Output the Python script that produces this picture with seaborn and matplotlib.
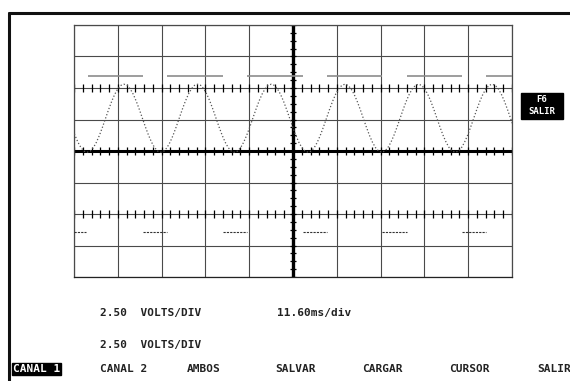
import numpy as np
import pandas as pd
import matplotlib
matplotlib.use("Agg")
import matplotlib.pyplot as plt
import seaborn as sns
from matplotlib.lines import Line2D
from matplotlib.patches import Rectangle

# canal 1: sine trace, read every 1/24 of a period (volts)
sine_t0 = -1.385   # ms, first sample
sine_dt = 0.8125   # ms between samples
sine_v = [
    2.6, 1.9, 1.25, 0.69, 0.26, -0.01, -0.1, -0.01, 0.26, 0.69, 1.25, 1.9,
    2.6, 3.3, 3.95, 4.51, 4.94, 5.21, 5.3, 5.21, 4.94, 4.51, 3.95, 3.3,
    2.6, 1.9, 1.25, 0.69, 0.26, -0.01, -0.1, -0.01, 0.26, 0.69, 1.25, 1.9,
    2.6, 3.3, 3.95, 4.51, 4.94, 5.21, 5.3, 5.21, 4.94, 4.51, 3.95, 3.3,
    2.6, 1.9, 1.25, 0.69, 0.26, -0.01, -0.1, -0.01, 0.26, 0.69, 1.25, 1.9,
    2.6, 3.3, 3.95, 4.51, 4.94, 5.21, 5.3, 5.21, 4.94, 4.51, 3.95, 3.3,
    2.6, 1.9, 1.25, 0.69, 0.26, -0.01, -0.1, -0.01, 0.26, 0.69, 1.25, 1.9,
    2.6, 3.3, 3.95, 4.51, 4.94, 5.21, 5.3, 5.21, 4.94, 4.51, 3.95, 3.3,
    2.6, 1.9, 1.25, 0.69, 0.26, -0.01, -0.1, -0.01, 0.26, 0.69, 1.25, 1.9,
    2.6, 3.3, 3.95, 4.51, 4.94, 5.21, 5.3, 5.21, 4.94, 4.51, 3.95, 3.3,
    2.6, 1.9, 1.25, 0.69, 0.26, -0.01, -0.1, -0.01, 0.26, 0.69, 1.25, 1.9,
    2.6, 3.3, 3.95, 4.51, 4.94, 5.21, 5.3, 5.21, 4.94, 4.51, 3.95, 3.3,
    2.6, 1.9,
]

# canal 2: square wave, only the flat parts show (ms)
high_level = 5.95
high_start = [3.7, 24.63, 45.82, 67.0, 88.19, 109.1]
high_end = [18.27, 39.46, 60.65, 81.57, 102.76, 116.0]
low_level = -6.4
low_start = [0.0, 18.27, 39.46, 60.65, 81.57, 102.76]
low_end = [3.3, 24.63, 45.82, 67.0, 88.19, 109.1]

volts_div = "2.50"
time_div = "11.60ms/div"
menu = ["CANAL 1", "CANAL 2", "AMBOS", "SALVAR", "CARGAR", "CURSOR", "SALIR"]
menu_x = [13, 100, 187, 275, 362, 449, 537]

W, H = 570, 381
sns.set_style("white")
plt.rcParams["font.family"] = ["DejaVu Sans Mono"]

fig = plt.figure(figsize=(W / 100, H / 100), dpi=100)
ax = fig.add_axes([74 / W, 1 - 277 / H, (512 - 74) / W, (277 - 25) / H])

df = pd.DataFrame({"t": sine_t0 + sine_dt * np.arange(len(sine_v)), "v": sine_v})

ax.set_xlim(0, 116)
ax.set_ylim(-10, 10)

# grid
for x in np.arange(0, 116.1, 11.6):
    ax.axvline(x, color="#4a4a4a", lw=0.8, zorder=1)
for y in np.arange(-10, 10.1, 2.5):
    ax.axhline(y, color="#4a4a4a", lw=0.8, zorder=1)
ax.axvline(58, color="black", lw=2.4, zorder=2)
ax.axhline(0, color="black", lw=2.2, zorder=2)

# small ticks
xt = np.arange(0, 116.1, 11.6 / 5)
for y in [5, 0, -5]:
    ax.vlines(xt, y - 0.3, y + 0.3, color="black", lw=0.9, zorder=2)
yt = np.arange(-10, 10.1, 2.5 / 4)
ax.hlines(yt, 58 - 0.9, 58 + 0.9, color="black", lw=0.9, zorder=2)

sns.lineplot(data=df, x="t", y="v", ax=ax, color="#555555", lw=0.9,
             linestyle=":", zorder=3)
ax.hlines([high_level] * len(high_start), high_start, high_end,
          color="#8c8c8c", lw=1.2, zorder=3)
ax.hlines([low_level] * len(low_start), low_start, low_end, color="#333333",
          lw=0.8, linestyle=(0, (2, 1)), zorder=3)

ax.set_xticks([])
ax.set_yticks([])
ax.set_xlabel("")
ax.set_ylabel("")
for s in ax.spines.values():
    s.set_visible(True)
    s.set_color("#4a4a4a")
    s.set_linewidth(0.9)
ax.spines["bottom"].set_color("#222222")

# outer frame
fig.add_artist(Line2D([9 / W, 1], [1 - 13 / H] * 2, color="#111111", lw=2.2))
fig.add_artist(Line2D([9 / W] * 2, [1 - 13 / H, 0], color="#111111", lw=2.2))

txt = dict(fontsize=8, fontweight="bold", color="#222222", va="center")
fig.text(100 / W, 1 - 313 / H, volts_div + "  VOLTS/DIV", **txt)
fig.text(277 / W, 1 - 313 / H, time_div, **txt)
fig.text(100 / W, 1 - 345 / H, volts_div + "  VOLTS/DIV", **txt)

for i, (lab, x) in enumerate(zip(menu, menu_x)):
    if i == 0:
        fig.text(x / W, 1 - 369 / H, lab, fontsize=8, fontweight="bold",
                 color="white", va="center",
                 bbox=dict(facecolor="black", edgecolor="black", pad=0.8))
    else:
        fig.text(x / W, 1 - 369 / H, lab, **txt)

# F6 button
fig.add_artist(Rectangle((521 / W, 1 - 119 / H), 42 / W, 26 / H,
                         transform=fig.transFigure, color="black"))
fig.text(542 / W, 1 - 99.5 / H, "F6", fontsize=6.5, fontweight="bold",
         color="white", ha="center", va="center")
fig.text(542 / W, 1 - 111 / H, "SALIR", fontsize=6.5, fontweight="bold",
         color="white", ha="center", va="center")

fig.savefig("out.png", dpi=100)
